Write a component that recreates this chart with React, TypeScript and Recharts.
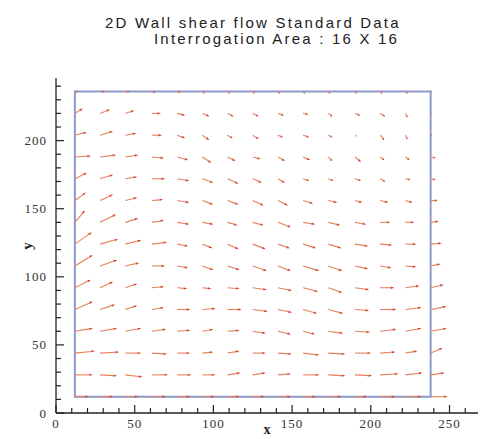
import { ReferenceArea, ReferenceLine, Scatter, ScatterChart, XAxis, YAxis } from 'recharts'

// grid of interrogation windows (pixel positions)
const xs = [12, 28, 44, 61, 77, 93, 109, 125, 141, 157, 173, 190, 206, 222, 238]
const ys = [236, 220, 204, 188, 172, 156, 140, 124, 108, 92, 76, 60, 44, 28, 12]

// velocity components, one row per y (top to bottom), one value per x
const uRows = [
  [3, 4, 4, 3, 3, 2, 2, 2, 2, 2, 2, 2, 2, 2, 1],
  [8, 10, 9, 9, 8, 7, 6, 6, 6, 5, 4, 5, 5, 2, 1],
  [12, 13, 11, 10, 8, 7, 5, 6, 5, 6, 4, 1, 4, 2, 1],
  [16, 16, 13, 12, 11, 9, 8, 8, 7, 7, 4, 6, 4, 4, 5],
  [12, 13, 12, 13, 12, 11, 11, 9, 7, 6, 5, 6, 5, 5, 5],
  [11, 13, 12, 11, 12, 11, 11, 11, 10, 10, 9, 7, 8, 7, 7],
  [10, 16, 13, 12, 12, 11, 10, 11, 13, 12, 12, 11, 10, 9, 8],
  [17, 18, 16, 15, 11, 10, 11, 13, 12, 13, 13, 13, 12, 11, 11],
  [18, 17, 14, 13, 11, 11, 12, 14, 13, 16, 14, 13, 11, 11, 10],
  [16, 13, 12, 12, 10, 9, 12, 14, 14, 15, 14, 14, 14, 14, 13],
  [18, 15, 12, 12, 13, 13, 14, 15, 14, 14, 15, 14, 16, 16, 16],
  [18, 17, 16, 14, 13, 11, 12, 13, 13, 12, 15, 15, 16, 16, 16],
  [20, 19, 16, 15, 13, 11, 12, 13, 14, 16, 17, 16, 15, 12, 12],
  [18, 17, 17, 16, 14, 13, 13, 13, 13, 16, 17, 17, 18, 17, 14],
  [14, 13, 13, 14, 13, 12, 12, 12, 13, 13, 13, 12, 15, 16, 17],
]
const vRows = [
  [0, 0, 0, -1, -1, -2, -2, -2, -2, -2, -2, -2, -2, -2, 0],
  [5, 4, 3, 0, -2, -3, -3, -3, -2, -1, -3, -2, -3, -4, 0],
  [3, 4, 2, 0, -3, -5, -3, -4, -2, -2, -2, -1, -5, -4, 0],
  [1, 2, 2, -1, -3, -6, -4, -2, -4, -3, -4, -5, -3, -3, -1],
  [6, 4, 2, 0, -2, -4, -5, -4, -4, -2, -2, -2, -3, -1, -1],
  [8, 6, 3, 1, -2, -4, -4, -5, -5, -3, -2, -2, -2, -2, 0],
  [12, 8, 4, 2, -2, -2, -3, -3, -5, -2, -3, -2, 0, 0, 1],
  [12, 5, 4, 2, -2, -4, -5, -5, -4, -4, -4, -2, -1, 0, 1],
  [11, 6, 3, 0, -2, -4, -4, -5, -5, -5, -5, -3, -2, -1, 2],
  [8, 6, 4, 1, -1, -1, -1, -2, -3, -4, -5, -2, 0, 2, 3],
  [8, 5, 4, 2, 0, 1, 0, -2, -3, -4, -4, -1, 0, 2, 3],
  [3, 3, 3, 2, 1, 2, 1, -2, -3, -3, -2, -1, 2, 3, 3],
  [2, 1, 0, -1, 0, 1, 2, 0, -1, -2, -1, 0, 1, 2, 5],
  [0, -1, -2, 0, 0, 0, 2, 2, 1, 0, -1, -1, 1, 2, 2],
  [0, 0, 0, 0, 0, 0, 0, 0, 0, 0, 0, 0, 0, 0, 0],
]

const xTicks = [0, 10, 20, 30, 40, 50, 60, 70, 80, 90, 100, 110, 120, 130, 140, 150, 160, 170, 180, 190, 200, 210, 220, 230, 240, 250, 260, 270]
const yTicks = [0, 10, 20, 30, 40, 50, 60, 70, 80, 90, 100, 110, 120, 130, 140, 150, 160, 170, 180, 190, 200, 210, 220, 230, 240]
const majorTicks = [0, 50, 100, 150, 200, 250]

// vector length scale (velocity -> grid units)
const VEC_X = 1 / 1.574
const VEC_Y = 1 / 1.362

const arrows = ys.flatMap((y, j) =>
  xs.map((x, i) => ({ x, y, u: uRows[j][i], v: vRows[j][i] }))
)

const tickFont = {
  fontFamily: '"Liberation Serif", serif',
  fontSize: 13,
  letterSpacing: 1,
  fill: '#333',
}

function XTick(props: any) {
  const { x, y, payload } = props
  const major = majorTicks.includes(payload.value)
  return (
    <g>
      <line x1={x} y1={y} x2={x} y2={y - (major ? 8 : 5)} stroke='#222' strokeWidth={1.2} />
      {major && (
        <text x={x} y={y + 15} textAnchor='middle' {...tickFont}>
          {payload.value}
        </text>
      )}
    </g>
  )
}

function YTick(props: any) {
  const { x, y, payload } = props
  const major = majorTicks.includes(payload.value)
  return (
    <g>
      <line x1={x} y1={y} x2={x + (major ? 8 : 5)} y2={y} stroke='#222' strokeWidth={1.2} />
      {major && (
        <text x={x - 9} y={y + 4.5} textAnchor='end' {...tickFont}>
          {payload.value}
        </text>
      )}
    </g>
  )
}

function Arrow(props: any) {
  const { x1, y1, x2, y2 } = props
  const dx = x2 - x1
  const dy = y2 - y1
  const len = Math.hypot(dx, dy)
  if (!len) return <g />
  const ux = dx / len
  const uy = dy / len
  const hl = Math.min(3.5, len * 0.4)
  const hw = 1.2
  const bx = x2 - ux * hl
  const by = y2 - uy * hl
  return (
    <g>
      <line x1={x1} y1={y1} x2={bx} y2={by} stroke='#e6805c' strokeWidth={1.1} />
      <polygon
        points={`${x2},${y2} ${bx - uy * hw},${by + ux * hw} ${bx + uy * hw},${by - ux * hw}`}
        fill='#d4402a'
      />
    </g>
  )
}

export default function App() {
  return (
    <div style={{ position: 'relative', width: 478, height: 431 }}>
      <ScatterChart width={478} height={431} margin={{ top: 70, right: 5, bottom: 0, left: 0 }}>
        <XAxis
          type='number'
          dataKey='x'
          domain={[0, 270]}
          ticks={xTicks}
          interval={0}
          height={26}
          tickSize={0}
          tickMargin={0}
          tickLine={false}
          tick={<XTick />}
          axisLine={{ stroke: '#222', strokeWidth: 1.3 }}
        />
        <YAxis
          type='number'
          dataKey='y'
          domain={[0, 246]}
          ticks={yTicks}
          interval={0}
          width={48}
          tickSize={0}
          tickMargin={0}
          tickLine={false}
          tick={<YTick />}
          axisLine={{ stroke: '#222', strokeWidth: 1.3 }}
        />
        <ReferenceArea
          x1={12}
          x2={238}
          y1={12}
          y2={236}
          fill='none'
          stroke='#8c9bcc'
          strokeWidth={2}
          ifOverflow='visible'
        />
        <Scatter data={arrows} isAnimationActive={false} shape={() => <g />} />
        {arrows.map((a, k) => (
          <ReferenceLine
            key={k}
            segment={[
              { x: a.x, y: a.y },
              { x: a.x + a.u * VEC_X, y: a.y + a.v * VEC_Y },
            ]}
            ifOverflow='visible'
            shape={Arrow}
          />
        ))}
      </ScatterChart>
      <svg
        width={478}
        height={431}
        style={{ position: 'absolute', left: 0, top: 0, pointerEvents: 'none' }}
      >
        <g fontFamily='"Liberation Sans", sans-serif' fontSize={15} letterSpacing={2.2} fill='#222'>
          <text x={97} y={20}>2D Wall shear flow Standard Data</text>
          <text x={146} y={36}>Interrogation Area : 16 X 16</text>
        </g>
        <text x={259} y={426} textAnchor='middle' fontFamily='"Liberation Serif", serif' fontWeight='bold' fontSize={14} fill='#222'>
          x
        </text>
        <text
          x={24}
          y={238}
          textAnchor='middle'
          transform='rotate(-90 24 238)'
          fontFamily='"Liberation Serif", serif'
          fontWeight='bold'
          fontSize={15}
          fill='#222'
        >
          y
        </text>
      </svg>
    </div>
  )
}
